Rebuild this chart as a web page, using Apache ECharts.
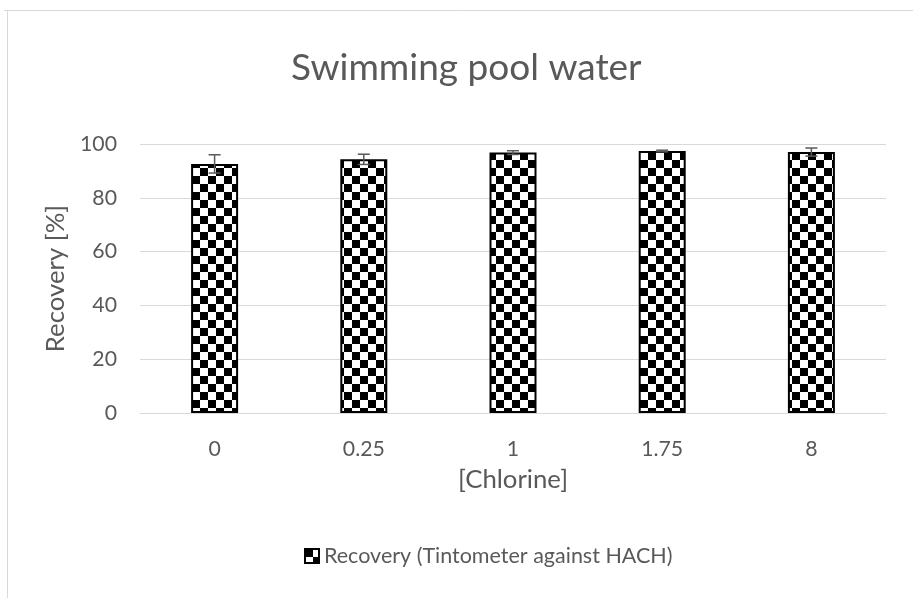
<!DOCTYPE html>
<html><head><meta charset="utf-8">
<script src="https://cdn.jsdelivr.net/npm/echarts@6/dist/echarts.min.js"></script>
<style>html,body{margin:0;padding:0;background:#fff}#c{width:913px;height:598px}</style>
</head><body><div id="c"></div>
<script>
const categories = ['0', '0.25', '1', '1.75', '8'];
const recovery = [92.6, 94.3, 96.8, 97.4, 97.0];
const errors = [3.4, 1.9, 0.7, 0.3, 1.5];
const yTicks = [0, 20, 40, 60, 80, 100];
const titleText = 'Swimming pool water';
const seriesName = 'Recovery (Tintometer against HACH)';
const xName = '[Chlorine]';
const yName = 'Recovery [%]';

const FONT = 'Lato';
const mctx = document.createElement('canvas').getContext('2d');
function sizeFor(text, target) {
  mctx.font = '100px ' + FONT;
  return Math.round(100 * target / mctx.measureText(text).width * 2) / 2;
}
const tickSize = Math.min(22, (sizeFor('0.25', 44) + sizeFor('100', 35)) / 2);
const nameSize = (sizeFor(xName, 115) + sizeFor(yName, 139)) / 2;
const legendSize = sizeFor(seriesName, 350);
const titleSize = sizeFor(titleText, 350);
mctx.font = titleSize + 'px ' + FONT;
const titleW = mctx.measureText(titleText).width;

function makePattern() {
  const c = document.createElement('canvas');
  c.width = 16; c.height = 16;
  const g = c.getContext('2d');
  g.fillStyle = '#ffffff'; g.fillRect(0, 0, 16, 16);
  g.fillStyle = '#000000';
  g.fillRect(0, 0, 8, 8);
  g.fillRect(8, 8, 8, 8);
  return c;
}
const pat = { image: makePattern(), repeat: 'repeat' };
const chart = echarts.init(document.getElementById('c'));
chart.setOption({
  animation: false,
  graphic: [
    { type: 'line', shape: { x1: 4, y1: 10.5, x2: 913, y2: 10.5 }, style: { stroke: '#d9d9d9', lineWidth: 1 } },
    { type: 'line', shape: { x1: 7.5, y1: 10, x2: 7.5, y2: 598 }, style: { stroke: '#d9d9d9', lineWidth: 1 } }
  ],
  title: {
    text: titleText, left: Math.round(466 - titleW / 2), top: Math.round(72 - titleSize * 0.6), padding: 0,
    textStyle: { fontFamily: FONT, fontSize: titleSize, fontWeight: 'normal', color: '#595959' }
  },
  legend: {
    data: [seriesName], padding: 0,
    top: 545, left: 304, itemWidth: 14, itemHeight: 14, itemGap: 5, icon: 'rect',
    textStyle: { fontFamily: FONT, fontSize: legendSize, lineHeight: 20, color: '#595959' }
  },
  grid: { left: 140, right: 27, top: 144, bottom: 185 },
  xAxis: {
    type: 'category', data: categories,
    name: xName, nameLocation: 'middle', nameGap: Math.round(480 - 413 - nameSize / 2),
    nameTextStyle: { fontFamily: FONT, fontSize: nameSize, color: '#595959' },
    axisLine: { lineStyle: { color: '#d9d9d9' } }, axisTick: { show: false },
    axisLabel: { fontFamily: FONT, fontSize: tickSize, color: '#595959', margin: 26 }
  },
  yAxis: {
    type: 'value', min: yTicks[0], max: yTicks[yTicks.length - 1], interval: 20,
    name: yName, nameLocation: 'middle', nameGap: 70,
    nameTextStyle: { fontFamily: FONT, fontSize: nameSize, color: '#595959' },
    axisLine: { show: false }, axisTick: { show: false },
    splitLine: { lineStyle: { color: '#d9d9d9' } },
    axisLabel: { fontFamily: FONT, fontSize: tickSize, color: '#595959', margin: 23 }
  },
  series: [
    {
      name: seriesName, type: 'bar', data: recovery, barWidth: 47,
      itemStyle: { color: pat, borderColor: '#000', borderWidth: 2 }
    },
    {
      name: 'err', type: 'custom', z: 5,
      data: recovery.map((v, i) => [i, v - errors[i], v + errors[i]]),
      renderItem: function (params, api) {
        const lo = api.coord([api.value(0), api.value(1)]);
        const hi = api.coord([api.value(0), api.value(2)]);
        const hw = 6;
        const st = { stroke: '#595959', lineWidth: 1.5 };
        return { type: 'group', children: [
          { type: 'line', shape: { x1: lo[0], y1: lo[1], x2: hi[0], y2: hi[1] }, style: st },
          { type: 'line', shape: { x1: lo[0] - hw, y1: lo[1], x2: lo[0] + hw, y2: lo[1] }, style: st },
          { type: 'line', shape: { x1: hi[0] - hw, y1: hi[1], x2: hi[0] + hw, y2: hi[1] }, style: st }
        ]};
      }
    }
  ]
});
</script></body></html>
